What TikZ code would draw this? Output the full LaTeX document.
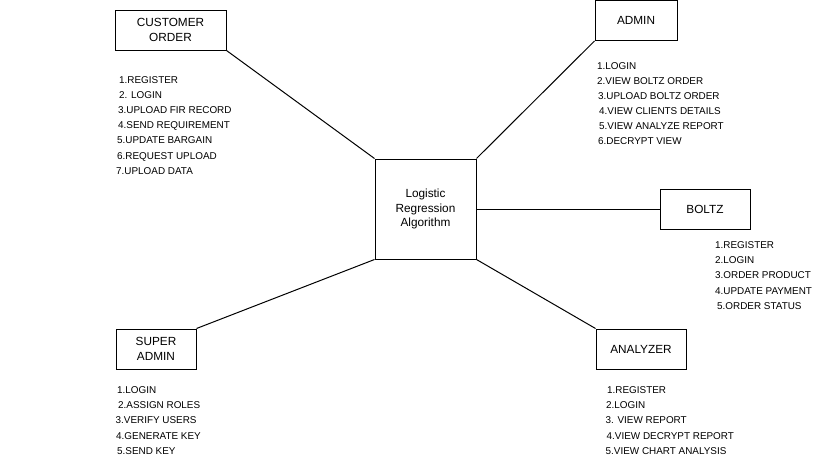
\documentclass[tikz,border=0pt]{standalone}
\usepackage{fontspec}
\setmainfont{Liberation Sans}
\begin{document}
\begin{tikzpicture}[x=1pt,y=-1pt,
  box/.style={draw,line width=1pt,inner sep=0pt,font=\fontsize{11.8}{14.5}\selectfont,align=center},
  item/.style={anchor=base west,inner sep=0pt,font=\fontsize{9.9}{15}\selectfont},
  link/.style={line width=1pt}]
\useasboundingbox (0,0) rectangle (826,466);
% boxes
\node[box,minimum width=101pt,minimum height=100pt] (alg) at (425.5,209) {Logistic\\Regression\\Algorithm};
\node[box,minimum width=111pt,minimum height=40pt] (cust) at (170.5,30) {CUSTOMER\\ORDER};
\node[box,minimum width=82pt,minimum height=40pt] (admin) at (636,20.5) {ADMIN};
\node[box,minimum width=90pt,minimum height=40pt] (boltz) at (705,209) {BOLTZ};
\node[box,minimum width=80pt,minimum height=40pt] (super) at (156,349) {SUPER\\ADMIN};
\node[box,minimum width=90pt,minimum height=40pt] (anal) at (641,349) {ANALYZER};
% connectors
\draw[link] (cust.south east) -- (alg.north west);
\draw[link] (admin.south west) -- (alg.north east);
\draw[link] (boltz.west) -- (alg.east);
\draw[link] (super.north east) -- (alg.south west);
\draw[link] (anal.north west) -- (alg.south east);
% lists
\foreach \t/\x [count=\i] in {1.REGISTER/119, 2. LOGIN/119, 3.UPLOAD FIR RECORD/118, 4.SEND REQUIREMENT/118, 5.UPDATE BARGAIN/117, 6.REQUEST UPLOAD/117, 7.UPLOAD DATA/116}
  \node[item] (c\i) at (\x,{83.5+15.1*(\i-1)}) {\t};
\foreach \t/\x [count=\i] in {1.LOGIN/597, 2.VIEW BOLTZ ORDER/597, 3.UPLOAD BOLTZ ORDER/598, 4.VIEW CLIENTS DETAILS/599, 5.VIEW ANALYZE REPORT/599, 6.DECRYPT VIEW/598}
  \node[item] (a\i) at (\x,{69.5+15*(\i-1)}) {\t};
\foreach \t/\x [count=\i] in {1.REGISTER/715, 2.LOGIN/715, 3.ORDER PRODUCT/715, 4.UPDATE PAYMENT/715, 5.ORDER STATUS/717}
  \node[item] (b\i) at (\x,{248.5+15.2*(\i-1)}) {\t};
\foreach \t/\x [count=\i] in {1.LOGIN/117, 2.ASSIGN ROLES/118, 3.VERIFY USERS/115.5, 4.GENERATE KEY/116, 5.SEND KEY/117}
  \node[item] (s\i) at (\x,{393.5+15.2*(\i-1)}) {\t};
\foreach \t/\x [count=\i] in {1.REGISTER/607, 2.LOGIN/606, 3. VIEW REPORT/605.5, 4.VIEW DECRYPT REPORT/606.5, 5.VIEW CHART ANALYSIS/605.5}
  \node[item] (n\i) at (\x,{393.5+15.2*(\i-1)}) {\t};
\end{tikzpicture}
\end{document}
